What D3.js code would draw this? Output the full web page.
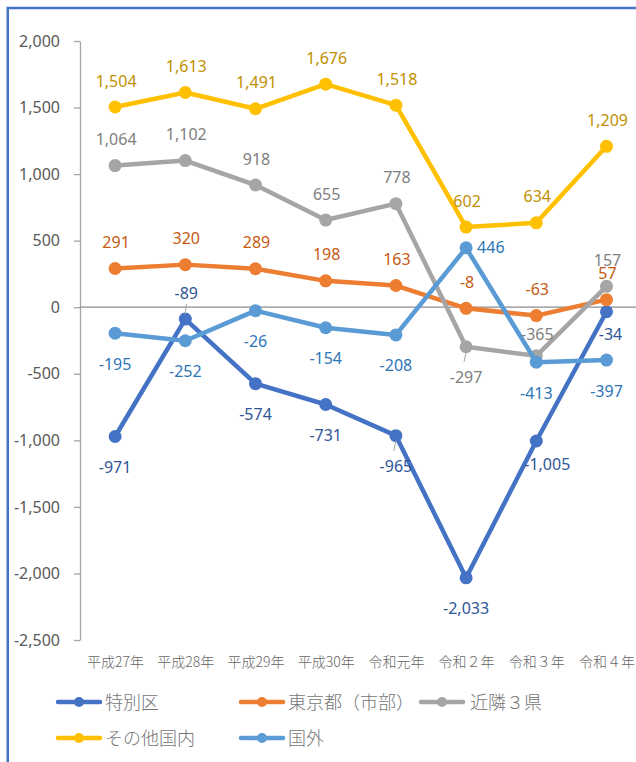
<!DOCTYPE html>
<html>
<head>
<meta charset="utf-8">
<script src="https://cdn.jsdelivr.net/npm/d3@7"></script>
<style>
  html, body { margin: 0; padding: 0; background: #fff; }
  svg { display: block; }
</style>
</head>
<body>
<svg id="chart" width="636" height="762"></svg>
<script>
// ---- data ----
const categories = ["平成27年","平成28年","平成29年","平成30年","令和元年","令和２年","令和３年","令和４年"];
const seriesNames = ["特別区","東京都（市部）","近隣３県","その他国内","国外"];
const tokubetsuku   = [-971, -89, -574, -731, -965, -2033, -1005, -34];
const tokyoShibu    = [291, 320, 289, 198, 163, -8, -63, 57];
const kinrin3ken    = [1064, 1102, 918, 655, 778, -297, -365, 157];
const sonotaKokunai = [1504, 1613, 1491, 1676, 1518, 602, 634, 1209];
const kokugai       = [-195, -252, -26, -154, -208, 446, -413, -397];
const yTicks = [2000, 1500, 1000, 500, 0, -500, -1000, -1500, -2000, -2500];

// ---- styling / layout (not data) ----
const lineColors  = ["#4472C4", "#ED7D31", "#A5A5A5", "#FFC000", "#5B9BD5"];
const labelColors = ["#2F5597", "#C55A11", "#7F7F7F", "#BF9000", "#2E75B6"];
// label placement codes per series point
const labelPlace = [
  ["b","t","b","b","b","b","b1","b2"],
  ["t","t","t","t","t","t","t","t"],
  ["t","t","t","t","t","b","t2","t"],
  ["t","t","t","t","t","t","t","t"],
  ["b","b","b","b","b","r","b","b"]
];
const placeOffsets = {
  t:  {dx: 1,  dy: -20.5, anchor: "middle"},
  t2: {dx: 1,  dy: -15.5, anchor: "middle"},
  b:  {dx: 0,  dy: 36.5,  anchor: "middle"},
  b1: {dx: 11, dy: 29.5,  anchor: "middle"},
  b2: {dx: 4,  dy: 28.5,  anchor: "middle"},
  r:  {dx: 11, dy: 5.5,   anchor: "start"}
};
// leader lines: [seriesIndex, pointIndex, direction]
const leaders = [[0, 1, -1], [0, 4, 1], [2, 5, 1]];

const fmt = d3.formatLocale({decimal: ".", thousands: ",", grouping: [3], currency: ["", ""], minus: "-"}).format(",");

const seriesValues = [tokubetsuku, tokyoShibu, kinrin3ken, sonotaKokunai, kokugai];
const series = seriesNames.map((name, i) => ({
  name, color: lineColors[i], labelColor: labelColors[i],
  points: categories.map((c, j) => ({cat: c, value: seriesValues[i][j], place: labelPlace[i][j]}))
}));

const svg = d3.select("#chart");
const numFont = "'Noto Sans', 'DejaVu Sans', sans-serif";
const cjkFont = "'Noto Sans CJK JP', 'Noto Sans', sans-serif";

svg.append("rect").attr("x", 0).attr("y", 0).attr("width", 636).attr("height", 762).attr("fill", "#fff");
// chart border (extends past the right / bottom edges)
svg.append("rect")
  .attr("x", 7.75).attr("y", 8).attr("width", 700).attr("height", 800)
  .attr("fill", "none").attr("stroke", "#4472C4").attr("stroke-width", 2.5);

const x = d3.scalePoint().domain(categories).range([80, 641.6]).padding(0.5);
const y = d3.scaleLinear().domain([-2500, 2000]).range([640, 41]);

// y axis
const yAxis = svg.append("g").attr("transform", "translate(80,0)")
  .call(d3.axisLeft(y).tickValues(yTicks).tickSize(6).tickSizeOuter(0).tickPadding(14)
        .tickFormat(fmt));
yAxis.select(".domain").attr("stroke", "#A6A6A6").attr("stroke-width", 1.3);
yAxis.selectAll(".tick line").attr("stroke", "#A6A6A6").attr("stroke-width", 1.3);
yAxis.selectAll(".tick text").attr("fill", "#595959")
  .style("font-family", numFont).style("font-size", "16px");

// zero line
svg.append("line")
  .attr("x1", 80).attr("x2", 636)
  .attr("y1", y(0)).attr("y2", y(0))
  .attr("stroke", "#8C8C8C").attr("stroke-width", 1.2);

// x axis labels
const xAxis = svg.append("g").attr("transform", `translate(0,${y(-2500)})`)
  .call(d3.axisBottom(x).tickSize(0).tickPadding(17));
xAxis.select(".domain").remove();
xAxis.selectAll(".tick text").attr("fill", "#666666")
  .style("font-family", cjkFont).style("font-size", "14px").style("font-weight", "300");

// lines
const line = d3.line().x(d => x(d.cat)).y(d => y(d.value));
const sg = svg.selectAll(".series").data(series).join("g").attr("class", "series");
sg.append("path")
  .attr("d", d => line(d.points))
  .attr("fill", "none").attr("stroke", d => d.color)
  .attr("stroke-width", 4.5).attr("stroke-linejoin", "round").attr("stroke-linecap", "round");
sg.selectAll("circle").data(d => d.points.map(p => ({...p, color: d.color})))
  .join("circle")
  .attr("cx", d => x(d.cat)).attr("cy", d => y(d.value)).attr("r", 6.5)
  .attr("fill", d => d.color);

// leader lines
svg.selectAll(".leader").data(leaders).join("line").attr("class", "leader")
  .attr("x1", d => x(categories[d[1]])).attr("x2", d => x(categories[d[1]]) + (d[2] > 0 ? -2 : 1))
  .attr("y1", d => y(seriesValues[d[0]][d[1]]) + d[2] * 5)
  .attr("y2", d => y(seriesValues[d[0]][d[1]]) + d[2] * 15)
  .attr("stroke", "#A6A6A6").attr("stroke-width", 1);

// data labels
const lg = svg.selectAll(".labels").data(series).join("g").attr("class", "labels");
lg.selectAll("text").data(d => d.points.map(p => ({...p, color: d.labelColor})))
  .join("text")
  .attr("x", d => x(d.cat) + placeOffsets[d.place].dx)
  .attr("y", d => y(d.value) + placeOffsets[d.place].dy)
  .attr("text-anchor", d => placeOffsets[d.place].anchor)
  .attr("fill", d => d.color)
  .style("font-family", numFont).style("font-size", "16px")
  .text(d => fmt(d.value));

// legend
const legendCols = [57, 240, 420];
const legendRows = [702, 738];
const legendItems = series.map((s, i) => ({
  ...s, lx: legendCols[i < 3 ? i : i - 3], ly: legendRows[i < 3 ? 0 : 1]
}));
const leg = svg.selectAll(".legend").data(legendItems).join("g").attr("class", "legend")
  .attr("transform", d => `translate(${d.lx},${d.ly})`);
leg.append("line").attr("x1", 1).attr("x2", 43).attr("y1", 0).attr("y2", 0)
  .attr("stroke", d => d.color).attr("stroke-width", 4.5).attr("stroke-linecap", "round");
leg.append("circle").attr("cx", 22).attr("cy", 0).attr("r", 5).attr("fill", d => d.color);
leg.append("text").attr("x", (d, i) => i === 2 ? 50 : 48).attr("y", 7)
  .attr("fill", "#767676")
  .style("font-family", cjkFont).style("font-size", "18px").style("font-weight", "300")
  .text(d => d.name);
</script>
</body>
</html>
